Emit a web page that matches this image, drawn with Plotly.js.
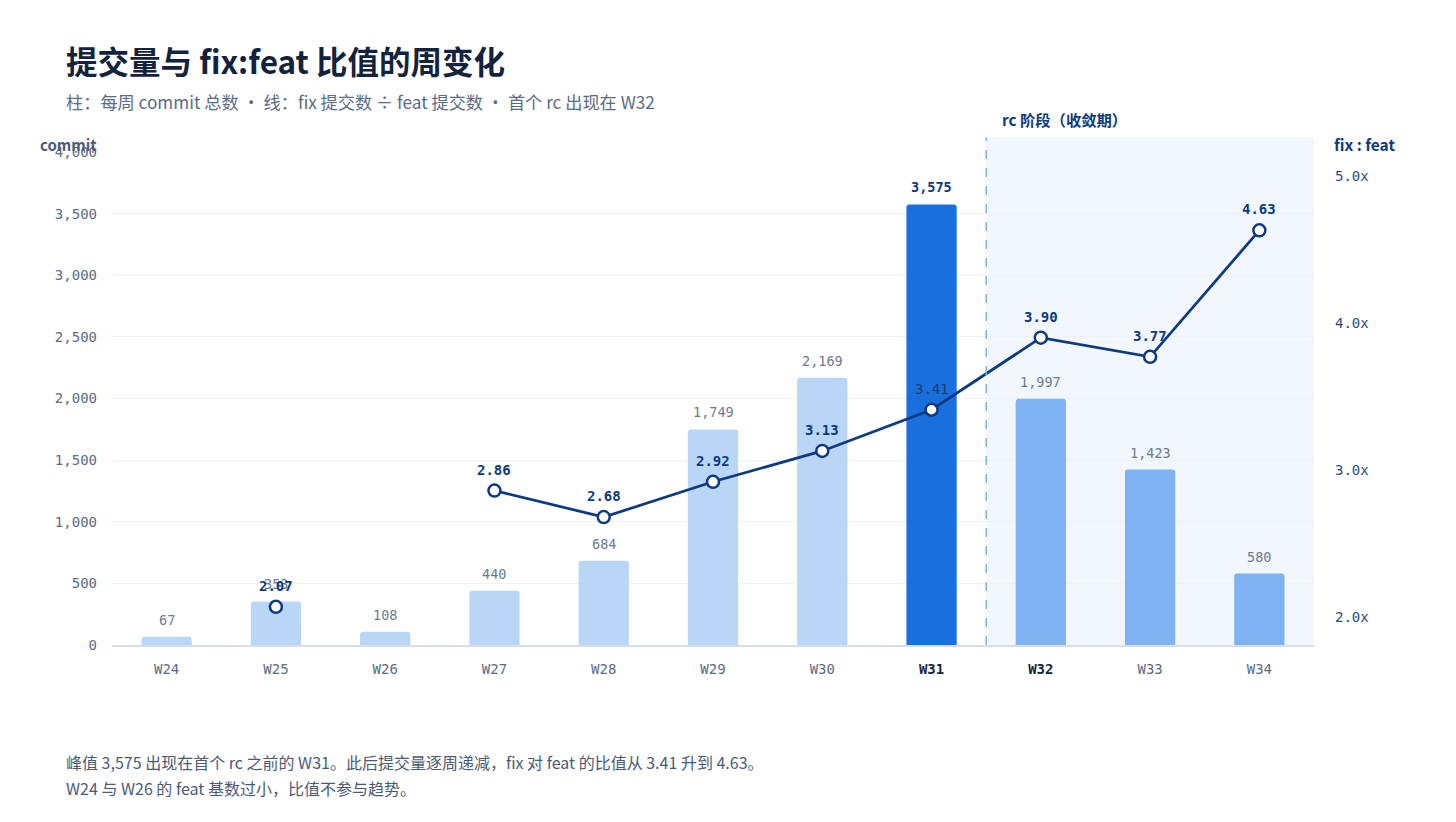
<!DOCTYPE html>
<html>
<head>
<meta charset="utf-8">
<script src="https://cdn.plot.ly/plotly-3.0.1.min.js"></script>
<style>html,body{margin:0;padding:0;background:#fff;}#chart{width:1456px;height:822px;}</style>
</head>
<body>
<div id="chart"></div>
<script>
const weeks = ["W24","W25","W26","W27","W28","W29","W30","W31","W32","W33","W34"];
const commits = [67, 353, 108, 440, 684, 1749, 2169, 3575, 1997, 1423, 580];
const ratios = [null, 2.07, null, 2.86, 2.68, 2.92, 3.13, 3.41, 3.90, 3.77, 4.63];
const leftTicks = [0, 500, 1000, 1500, 2000, 2500, 3000, 3500, 4000];
const rightTicks = [2, 3, 4, 5];
const rightTickText = ["2.0x", "3.0x", "4.0x", "5.0x"];
const peakWeek = "W31";
const rcStartIndex = 8; // W32

const MONO = "DejaVu Sans Mono, monospace";
const CJK = "Noto Sans CJK SC, Noto Sans, sans-serif";
const NAVY = "#0d3a80";

const barColors = weeks.map((w, i) => w === peakWeek ? "#1a6fdf" : (i >= rcStartIndex ? "#7eb2f3" : "#b9d6f7"));

const ticktext = weeks.map(w => (w === peakWeek || w === weeks[rcStartIndex]) ? '<b><span style="color:#17233a">' + w + '</span></b>' : w);

const barTrace = {
  type: "bar", x: weeks, y: commits, marker: {color: barColors, cornerradius: 3},
  width: 0.46, hoverinfo: "skip", yaxis: "y"
};
const lineTrace = {
  type: "scatter", mode: "lines+markers", x: weeks, y: ratios, yaxis: "y2",
  line: {color: NAVY, width: 2.75}, connectgaps: false,
  marker: {size: 12, color: "#ffffff", line: {color: NAVY, width: 2.5}},
  hoverinfo: "skip", cliponaxis: false
};

const ann = [];
weeks.forEach((w, i) => {
  const peak = w === peakWeek;
  ann.push({x: w, y: commits[i], xref: "x", yref: "y", yanchor: "bottom", yshift: 7, showarrow: false,
    text: peak ? "<b>" + commits[i].toLocaleString("en-US") + "</b>" : commits[i].toLocaleString("en-US"),
    font: {family: MONO, size: 13.5, color: peak ? "#0d3a80" : "#6b7a90"}});
});
weeks.forEach((w, i) => {
  if (ratios[i] === null) return;
  const onPeak = w === peakWeek;
  ann.push({x: w, y: ratios[i], xref: "x", yref: "y2", yanchor: "bottom", yshift: 11, showarrow: false,
    text: onPeak ? ratios[i].toFixed(2) : "<b>" + ratios[i].toFixed(2) + "</b>",
    font: {family: MONO, size: 14, color: onPeak ? "#1f3d70" : NAVY}});
});
ann.push(
  {xref: "paper", yref: "paper", x: -0.0399, y: 1.1866, xanchor: "left", yanchor: "middle", showarrow: false,
   text: "<b>提交量与 fix:feat 比值的周变化</b>", font: {family: CJK, size: 31.5, color: "#13233d"}},
  {xref: "paper", yref: "paper", x: -0.0399, y: 1.1034, xanchor: "left", yanchor: "middle", showarrow: false,
   text: "柱：每周 commit 总数 · 线：fix 提交数 ÷ feat 提交数 · 首个 rc 出现在 W32", font: {family: CJK, size: 17.2, color: "#5a6b85"}},
  {xref: "paper", yref: "paper", x: -0.0616, y: 1.0162, xanchor: "left", yanchor: "middle", showarrow: false,
   text: "<b>commit</b>", font: {family: CJK, size: 15, color: "#4a5a75"}},
  {xref: "paper", yref: "paper", x: 1.0150, y: 1.0162, xanchor: "left", yanchor: "middle", showarrow: false,
   text: "<b>fix : feat</b>", font: {family: CJK, size: 15.5, color: NAVY}},
  {xref: "paper", yref: "paper", x: 0.7388, y: 1.067, xanchor: "left", yanchor: "middle", showarrow: false,
   text: "<b>rc 阶段（收敛期）</b>", font: {family: CJK, size: 15.3, color: NAVY}},
  {xref: "paper", yref: "paper", x: -0.0399, y: -0.2373, xanchor: "left", yanchor: "middle", showarrow: false,
   text: "峰值 3,575 出现在首个 rc 之前的 W31。此后提交量逐周递减，fix 对 feat 的比值从 3.41 升到 4.63。", font: {family: CJK, size: 16, color: "#4a5a75"}},
  {xref: "paper", yref: "paper", x: -0.0399, y: -0.290, xanchor: "left", yanchor: "middle", showarrow: false,
   text: "W24 与 W26 的 feat 基数过小，比值不参与趋势。", font: {family: CJK, size: 16, color: "#4a5a75"}}
);

const layout = {
  width: 1456, height: 822,
  margin: {l: 112, r: 142, t: 152, b: 177, pad: 0},
  paper_bgcolor: "#ffffff", plot_bgcolor: "rgba(0,0,0,0)",
  showlegend: false, bargap: 0.54,
  xaxis: {type: "category", range: [-0.5, 10.5], tickvals: weeks, ticktext: ticktext,
    tickfont: {family: MONO, size: 14, color: "#5b6b82"}, ticks: "", ticklabelstandoff: 11,
    showgrid: false, showline: true, linecolor: "#d8dee8", linewidth: 1.5, zeroline: false, fixedrange: true},
  yaxis: {range: [0, 4000], tickvals: leftTicks, tickformat: ",d",
    tickfont: {family: MONO, size: 14, color: "#5b6b82"}, ticks: "", ticklabelstandoff: 14,
    showgrid: true, gridcolor: "#eef1f6", gridwidth: 1, zeroline: false, showline: false},
  yaxis2: {overlaying: "y", side: "right", range: [1.81, 5.163], tickvals: rightTicks, ticktext: rightTickText,
    tickfont: {family: MONO, size: 14, color: "#2c4a7c"}, ticks: "", ticklabelstandoff: 20,
    showgrid: false, zeroline: false, showline: false},
  shapes: [
    {type: "rect", xref: "x", yref: "paper", x0: rcStartIndex - 0.5, x1: weeks.length - 0.5, y0: 0, y1: 1.03,
     fillcolor: "#f2f7fe", line: {width: 0}, layer: "below"},
    {type: "line", xref: "x", yref: "paper", x0: rcStartIndex - 0.5, x1: rcStartIndex - 0.5, y0: 0, y1: 1.03,
     line: {color: "#7eb2f3", width: 1.5, dash: "dash"}, layer: "above"}
  ],
  annotations: ann
};

Plotly.newPlot("chart", [barTrace, lineTrace], layout, {displayModeBar: false, staticPlot: true});
</script>
</body>
</html>
